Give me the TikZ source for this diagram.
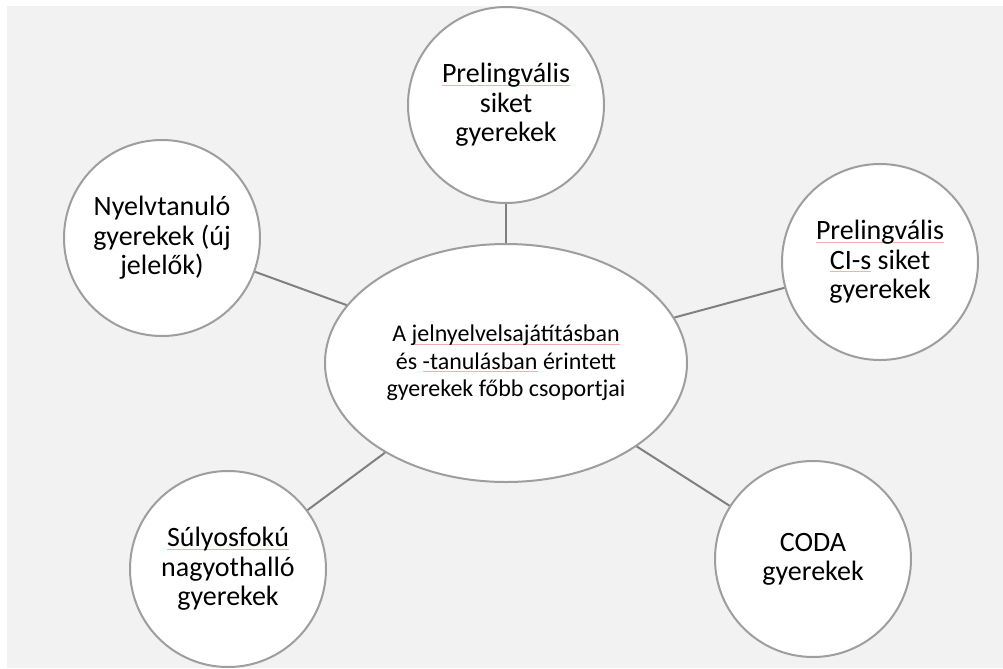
\documentclass[tikz,border=0pt]{standalone}
\usepackage{fontspec}
\setmainfont{Carlito}
\usetikzlibrary{shapes.geometric}
\definecolor{backgray}{RGB}{242,242,242}
\definecolor{ringgray}{RGB}{158,158,158}
\definecolor{linkgray}{RGB}{128,128,128}
\definecolor{spellred}{RGB}{242,175,175}
\newsavebox{\spellbox}
\newcommand{\spellmark}[1]{\sbox{\spellbox}{#1}\rlap{\color{spellred}\rule[-2pt]{\wd\spellbox}{0.5pt}}\usebox{\spellbox}}
\tikzset{
  kor/.style={circle, draw=ringgray, line width=1.5pt, fill=white, minimum size=147pt, inner sep=0pt, align=center, font=\fontsize{21}{22}\selectfont},
  kozep/.style={ellipse, draw=ringgray, line width=1.5pt, fill=white, minimum width=271.5pt, minimum height=178.5pt, inner sep=0pt, align=center, font=\fontsize{18}{20.5}\selectfont},
  kapocs/.style={draw=linkgray, line width=1.5pt}
}
\begin{document}
\begin{tikzpicture}[x=0.75pt, y=-0.75pt]
  \useasboundingbox (0,0) rectangle (1003,668);
  \fill[backgray] (7,6) rectangle (1003,668);
  \node[kozep] (csop) at (506,363) {A \spellmark{jelnyelvelsajátításban}\\ és \spellmark{-tanulásban} érintett\\ gyerekek főbb csoportjai};
  \node[kor] (prel) at (506,105) {\spellmark{Prelingvális}\\ siket\\ gyerekek};
  \node[kor] (ci) at (880,262) {\spellmark{Prelingvális}\\ \spellmark{CI-s} siket\\ gyerekek};
  \node[kor] (nyelv) at (162,238) {Nyelvtanuló\\ gyerekek (új\\ jelelők)};
  \node[kor] (suly) at (228,569) {\spellmark{Súlyosfokú}\\ nagyothalló\\ gyerekek};
  \node[kor] (coda) at (813,559) {CODA\\ gyerekek};
  \draw[kapocs] (prel) -- (csop);
  \draw[kapocs] (ci) -- (csop);
  \draw[kapocs] (nyelv) -- (csop);
  \draw[kapocs] (suly) -- (csop);
  \draw[kapocs] (coda) -- (csop);
\end{tikzpicture}
\end{document}
